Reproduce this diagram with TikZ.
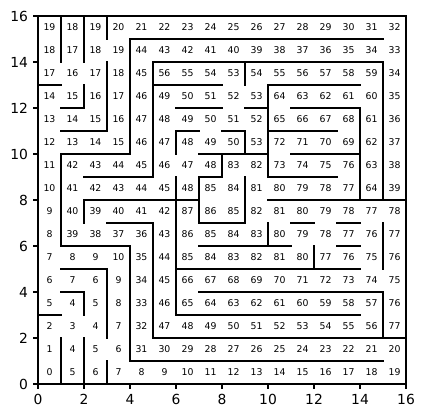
\documentclass[tikz,border=0pt]{standalone}
\usepackage{fontspec}
\setmainfont{DejaVu Sans}
\begin{document}
\begin{tikzpicture}[x=17.25pt,y=17.25pt,
  wall/.style={line width=1.9pt, line cap=rect},
  spine/.style={line width=0.83pt},
  cellnum/.style={font=\fontsize{7}{8}\selectfont, inner sep=0pt},
  ticklab/.style={font=\fontsize{10.4}{12}\selectfont, inner sep=0pt}]
\useasboundingbox (-1.652,-1.478) rectangle (16.826,16.696);
% cell numbers, top row first
\foreach \row [count=\r from 0] in {
 {19,18,19,20,21,22,23,24,25,26,27,28,29,30,31,32},
 {18,17,18,19,44,43,42,41,40,39,38,37,36,35,34,33},
 {17,16,17,18,45,56,55,54,53,54,55,56,57,58,59,34},
 {14,15,16,17,46,49,50,51,52,53,64,63,62,61,60,35},
 {13,14,15,16,47,48,49,50,51,52,65,66,67,68,61,36},
 {12,13,14,15,46,47,48,49,50,53,72,71,70,69,62,37},
 {11,42,43,44,45,46,47,48,83,82,73,74,75,76,63,38},
 {10,41,42,43,44,45,48,85,84,81,80,79,78,77,64,39},
 {9,40,39,40,41,42,87,86,85,82,81,80,79,78,77,78},
 {8,39,38,37,36,43,86,85,84,83,80,79,78,77,76,77},
 {7,8,9,10,35,44,85,84,83,82,81,80,77,76,75,76},
 {6,7,6,9,34,45,66,67,68,69,70,71,72,73,74,75},
 {5,4,5,8,33,46,65,64,63,62,61,60,59,58,57,76},
 {2,3,4,7,32,47,48,49,50,51,52,53,54,55,56,77},
 {1,4,5,6,31,30,29,28,27,26,25,24,23,22,21,20},
 {0,5,6,7,8,9,10,11,12,13,14,15,16,17,18,19}}
 {\foreach \v [count=\c from 0] in \row
   {\node[cellnum] (n\c-\r) at (\c+0.5,15.5-\r) {\v};}}
% axes frame and ticks
\draw[spine] (0,0) rectangle (16,16);
\foreach \t in {0,2,...,16}{
  \draw[spine] (\t,0) -- (\t,-0.211);
  \node[ticklab,anchor=north] (bx\t) at (\t,-0.42) {\t};
  \draw[spine] (0,\t) -- (-0.211,\t);
  \node[ticklab,anchor=east] (ly\t) at (-0.42,\t) {\t};
}
% vertical walls x/ystart/yend
\foreach \x/\a/\b in {1/14/16,1/6/10,1/0/2,
  2/14/16,2/12/13,2/7/8,2/3/4,2/0/2,
  3/15/16,3/11/14,3/2/5,3/0/1,
  4/10/15,4/1/6,
  5/9/14,5/2/7,
  6/10/11,6/3/9,
  7/7/9,
  8/9/10,
  9/13/14,9/10/11,9/7/9,
  10/9/13,10/6/7,
  12/5/6,
  14/8/12,
  15/8/14,15/5/7,15/2/4,
  16/1/15}
  {\draw[wall] (\x,\a) -- (\x,\b);}
% horizontal walls y/xstart/xend
\foreach \y/\a/\b in {15/4/15,
  14/5/15,
  13/0/1,13/5/8,13/10/14,
  12/1/2,12/6/8,12/9/10,12/11/14,
  11/1/3,11/6/7,11/8/9,11/10/13,
  10/1/4,10/7/10,10/11/14,
  9/2/5,9/7/8,9/10/13,
  8/2/7,8/10/16,
  7/3/5,7/7/9,7/11/12,7/13/14,
  6/1/4,6/7/11,6/13/14,
  5/1/3,5/6/14,
  4/1/2,4/7/15,
  3/0/1,3/6/14,
  2/5/16,
  1/4/15,
  0/0/16}
  {\draw[wall] (\a,\y) -- (\b,\y);}
\end{tikzpicture}
\end{document}
